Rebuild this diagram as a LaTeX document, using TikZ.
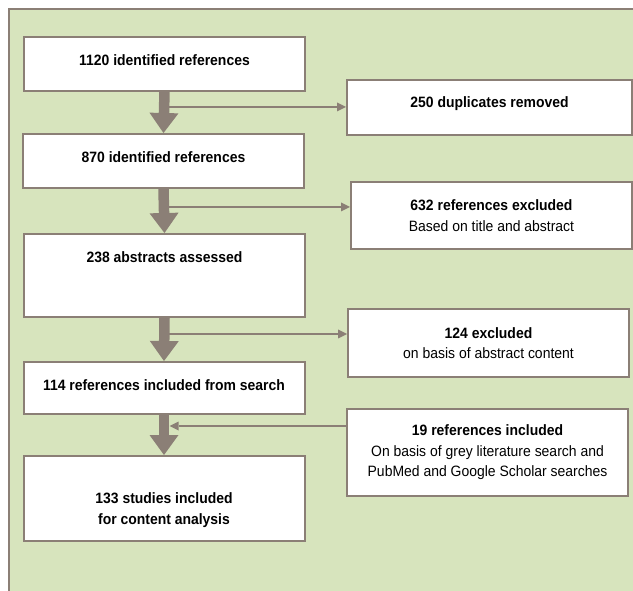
\documentclass[tikz,border=0pt]{standalone}
\usepackage{fontspec}
\setmainfont[FakeStretch=0.93]{Liberation Sans}
\usetikzlibrary{arrows.meta}
\definecolor{panelgreen}{HTML}{D7E4BD}
\definecolor{flowgray}{HTML}{8B7F76}
\tikzset{
  refbox/.style={draw=flowgray, line width=2pt, fill=white, minimum width=281pt,
    inner sep=0pt, align=center, font=\fontsize{15}{20.5}\selectfont},
  mainbox/.style={refbox, font=\fontsize{15}{20.5}\selectfont\bfseries},
  bigarrow/.style={draw=flowgray, line width=10.5pt,
    -{Triangle[width=29pt,length=20pt,line width=0pt]}},
  sidearrow/.style={draw=flowgray, line width=2pt,
    -{Triangle[width=9pt,length=9pt,line width=0pt]}},
}
\begin{document}
\begin{tikzpicture}[x=1pt,y=-1pt]
        \useasboundingbox (0,0) rectangle (633,591);
        \fill[panelgreen] (9,9) rectangle (633,591);
        \draw[flowgray, line width=1.5pt] (9,591) -- (9,9) -- (633,9);
        \node[mainbox, text height=28.5pt, text depth=25.5pt] (b1) at (164.5,64) {1120 identified references};
        \node[mainbox, text height=28.5pt, text depth=25.5pt] (b2) at (163.5,161) {870 identified references};
        \node[mainbox, text height=29pt, text depth=54pt] (b3) at (164.5,275.5) {238 abstracts assessed};
        \node[mainbox, text height=29pt, text depth=23pt] (b4) at (164,388) {114 references included from search};
        \node[mainbox, minimum height=85pt] (b5) at (164,498.5) {\mbox{}\\[14pt]133 studies included\\for content analysis};
        \node[refbox, minimum width=285pt, text height=28pt, text depth=27pt] (r1) at (489.5,107.5) {\textbf{250 duplicates removed}};
        \node[refbox, minimum height=67pt] (r2) at (491.5,215.5) {\textbf{632 references excluded}\\Based on title and abstract};
        \node[refbox, minimum height=68pt] (r3) at (488.5,343) {\textbf{124 excluded}\\on basis of abstract content};
        \node[refbox, minimum height=87pt] (r4) at (487.5,452.5) {\textbf{19 references included}\\On basis of grey literature search and\\PubMed and Google Scholar searches};
        \coordinate (s1) at (165,107);
        \coordinate (s2) at (165,207);
        \coordinate (s3) at (165,334);
        \coordinate (s4) at (169.5,426);
        \draw[sidearrow] (s1) -- (s1 -| r1.west);
        \draw[sidearrow] (s2) -- (s2 -| r2.west);
        \draw[sidearrow] (s3) -- (s3 -| r3.west);
        \draw[sidearrow] (s4 -| r4.west) -- (s4);
        \draw[bigarrow] (b1.south) -- (b2.north);
        \draw[bigarrow] (b2.south) -- (b3.north);
        \draw[bigarrow] (b3.south) -- (b4.north);
        \draw[bigarrow] (b4.south) -- (b5.north);
    \end{tikzpicture}
\end{document}
